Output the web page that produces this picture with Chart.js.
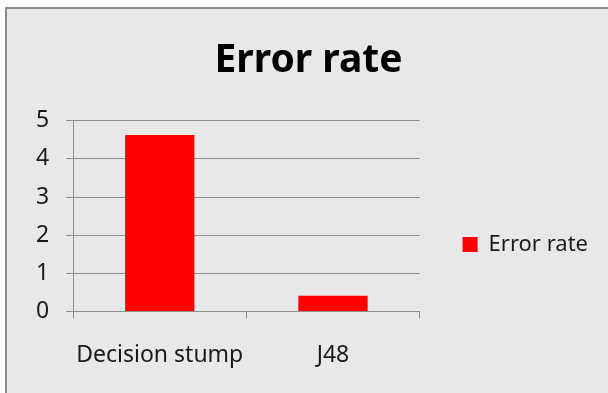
<!DOCTYPE html>
<html>
<head>
<meta charset="utf-8">
<script src="https://cdn.jsdelivr.net/npm/chart.js@4/dist/chart.umd.min.js"></script>
<style>
  html, body { margin: 0; padding: 0; background: #ffffff; }
  #frame {
    position: absolute; left: 5px; top: 7px; width: 700px; height: 500px;
    background: #e8e8e8; border-top: 2px solid #8c8c8c; border-left: 2px solid #8c8c8c;
  }
  #chart { position: absolute; left: 0; top: 0; }
</style>
</head>
<body>
<div id="frame"></div>
<canvas id="chart" width="608" height="393"></canvas>
<script>
// Classifier names and their error rates
const categories = ['Decision stump', 'J48'];
const errorRate = [4.63, 0.41];
const seriesName = 'Error rate';
const chartTitle = 'Error rate';
const yTicks = [0, 1, 2, 3, 4, 5];

const gridColor = '#8e8e8e';
const textColor = '#1a1a1a';
const baseFont = { family: "'Noto Sans', 'Open Sans', sans-serif", size: 23 };

new Chart(document.getElementById('chart'), {
  type: 'bar',
  data: {
    labels: categories,
    datasets: [{
      label: seriesName,
      data: errorRate,
      backgroundColor: '#ff0000',
      borderWidth: 0,
      barPercentage: 1,
      categoryPercentage: 0.4
    }]
  },
  options: {
    responsive: false,
    animation: false,
    devicePixelRatio: 1,
    layout: { padding: { left: 19, right: 10, top: 0, bottom: 1 } },
    plugins: {
      title: {
        display: true,
        text: chartTitle,
        color: '#000000',
        font: { family: baseFont.family, size: 39, weight: 'bold', lineHeight: 1.2 },
        padding: { top: 37, bottom: 37 }
      },
      legend: {
        position: 'right',
        maxWidth: 400,
        title: { display: true, text: '', font: { size: 1, lineHeight: 1 }, padding: { top: 96, bottom: 0 } },
        labels: {
          boxWidth: 15,
          boxHeight: 15,
          padding: 43,
          color: textColor,
          font: { family: baseFont.family, size: 22 }
        }
      },
      tooltip: { enabled: false }
    },
    scales: {
      x: {
        grid: { offset: true, drawOnChartArea: false, drawTicks: true, tickLength: 7, color: gridColor },
        border: { display: true, color: gridColor, width: 1 },
        ticks: { padding: 23, color: textColor, font: baseFont, maxRotation: 0 }
      },
      y: {
        min: yTicks[0],
        max: yTicks[yTicks.length - 1],
        afterBuildTicks: (scale) => { scale.ticks = yTicks.map(v => ({ value: v })); },
        grid: { color: gridColor, tickLength: 7, drawTicks: true },
        border: { display: true, color: gridColor, width: 1 },
        ticks: { padding: 17, color: textColor, font: baseFont }
      }
    }
  }
});
</script>
</body>
</html>
